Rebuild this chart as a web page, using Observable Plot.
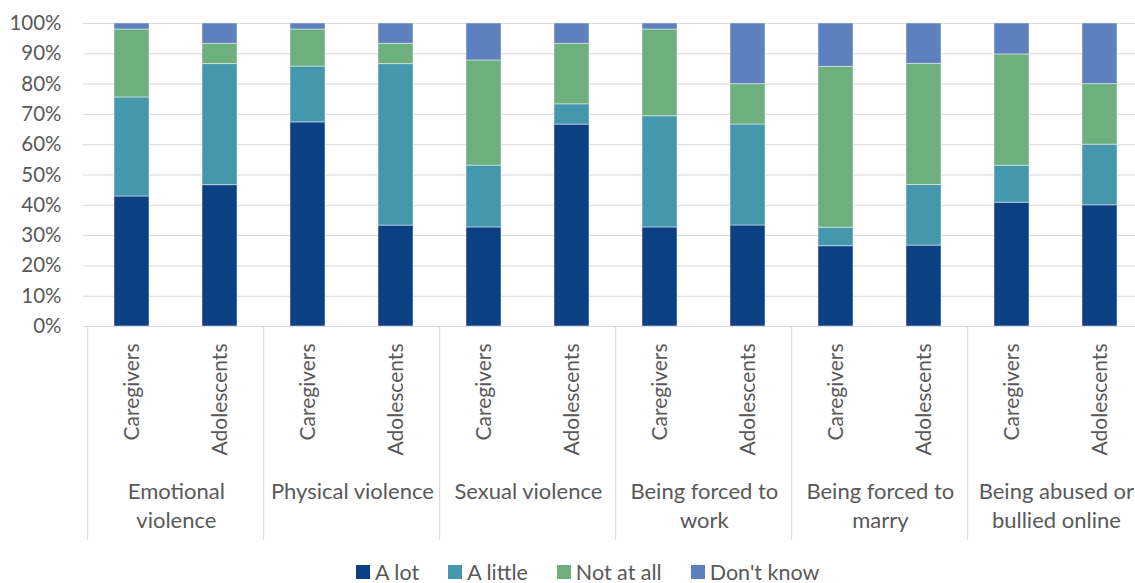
<!DOCTYPE html>
<html>
<head>
<meta charset="utf-8">
<script src="https://cdn.jsdelivr.net/npm/d3@7"></script>
<script src="https://cdn.jsdelivr.net/npm/@observablehq/plot@0.6"></script>
<style>
  html, body { margin: 0; padding: 0; background: #fff; overflow: hidden; }
  #chart { width: 1135px; }
  .legend { display: flex; align-items: center; height: 30px; margin-top: 9px; padding-left: 356px;
            font-family: Lato, sans-serif; font-size: 21.5px; color: #595959; }
  .legend .item { display: flex; align-items: center; margin-right: 29px; }
  .legend .swatch { width: 14px; height: 14px; margin-right: 5px; }
</style>
</head>
<body>
<div id="chart"></div>
<script>
// Categories (harm types) and the two respondent groups
const groups = ["Emotional violence", "Physical violence", "Sexual violence",
  "Being forced to work", "Being forced to marry", "Being abused or bullied online"];
const groupLabels = ["Emotional\nviolence", "Physical violence", "Sexual violence",
  "Being forced to\nwork", "Being forced to\nmarry", "Being abused or\nbullied online"];
const respondents = ["Caregivers", "Adolescents"];
const responses = ["A lot", "A little", "Not at all", "Don't know"];
const responseColors = ["#0b4182", "#4597ae", "#6daf7d", "#5e80be"];
const yTicks = [0, 10, 20, 30, 40, 50, 60, 70, 80, 90, 100];

// Share of respondents (%) per harm type, in the order of `groups`
const caregiversALot     = [42.9, 67.3, 32.7, 32.7, 26.5, 40.8];
const caregiversALittle  = [32.7, 18.4, 20.4, 36.7,  6.1, 12.2];
const caregiversNotAtAll = [22.4, 12.2, 34.7, 28.6, 53.1, 36.7];
const caregiversDontKnow = [ 2.0,  2.0, 12.2,  2.0, 14.3, 10.2];
const adolescentsALot     = [46.7, 33.3, 66.7, 33.3, 26.7, 40.0];
const adolescentsALittle  = [40.0, 53.3,  6.7, 33.3, 20.0, 20.0];
const adolescentsNotAtAll = [ 6.7,  6.7, 20.0, 13.3, 40.0, 20.0];
const adolescentsDontKnow = [ 6.7,  6.7,  6.7, 20.0, 13.3, 20.0];

const seriesByRespondent = {
  Caregivers: [caregiversALot, caregiversALittle, caregiversNotAtAll, caregiversDontKnow],
  Adolescents: [adolescentsALot, adolescentsALittle, adolescentsNotAtAll, adolescentsDontKnow]
};

// One band per (harm type, respondent) bar
const barKey = (g, r) => `${g} · ${r}`;
const keys = groups.flatMap(g => respondents.map(r => barKey(g, r)));
const respondentOf = new Map(groups.flatMap(g => respondents.map(r => [barKey(g, r), r])));

const rows = [];
groups.forEach((g, gi) => {
  respondents.forEach(r => {
    responses.forEach((resp, ri) => {
      rows.push({key: barKey(g, r), group: g, respondent: r, response: resp,
                 value: seriesByRespondent[r][ri][gi]});
    });
  });
});

// Layout
const width = 1135, height = 548;
const xRange = [83, 1148];
const step = (xRange[1] - xRange[0]) / keys.length;
const textColor = "#595959";
const gridColor = "#d9d9d9";

const chart = Plot.plot({
  width, height,
  marginLeft: 83, marginRight: 0, marginTop: 23, marginBottom: 222,
  style: {fontFamily: "Lato, sans-serif", fontSize: "20px", color: textColor, background: "#fff"},
  x: {type: "band", domain: keys, range: xRange, paddingInner: 0.6, paddingOuter: 0.3, label: null},
  y: {domain: [0, 100], percent: true, label: null},
  color: {domain: responses, range: responseColors},
  marks: [
    Plot.gridY({ticks: yTicks, stroke: gridColor, strokeOpacity: 1, strokeWidth: 1}),
    Plot.axisY({ticks: yTicks, tickSize: 0, tickPadding: 22, tickFormat: d => `${d}%`,
                label: null, fill: textColor, fontSize: 20.5}),
    Plot.barY(rows, Plot.stackY({offset: "normalize"}, {
      x: "key", y: "value", fill: "response",
      stroke: "#ffffff", strokeOpacity: 0.45, strokeWidth: 1
    })),
    // respondent labels under each bar
    Plot.axisX({tickSize: 0, tickPadding: 17, tickRotate: -90, fontSize: 21,
                tickFormat: k => respondentOf.get(k), label: null, fill: textColor}),
    // separators between harm types
    Plot.axisX({ticks: groups.map(g => barKey(g, respondents[0])), tickSize: 214,
                tickFormat: () => "", dx: -step / 2, stroke: gridColor, label: null}),
    // harm-type labels centred under each pair of bars
    Plot.text(groups, {
      x: g => barKey(g, respondents[0]),
      text: (g, i) => groupLabels[i],
      dx: step / 2, frameAnchor: "bottom", dy: 152,
      lineAnchor: "top", lineHeight: 1.32, fill: textColor, fontSize: 22
    })
  ]
});

document.getElementById("chart").append(chart);

// Legend
const legend = d3.select("#chart").append("div").attr("class", "legend");
responses.forEach((r, i) => {
  const item = legend.append("div").attr("class", "item");
  item.append("div").attr("class", "swatch").style("background", responseColors[i]);
  item.append("span").text(r);
});
</script>
</body>
</html>
